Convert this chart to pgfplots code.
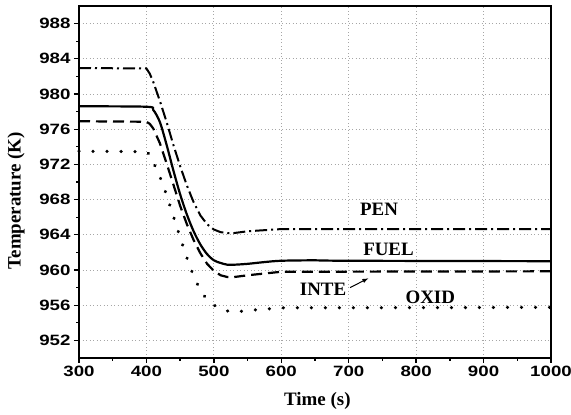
\documentclass[border=0pt]{standalone}
\usepackage{fontspec}
\setmainfont{Liberation Serif}
\setsansfont{Liberation Sans}
\newfontfamily\tickfont[FakeStretch=1.25]{Liberation Sans}
\usepackage{pgfplots}
\pgfplotsset{compat=1.18}

\begin{document}
\begin{tikzpicture}
\begin{axis}[
  name=ax,
  scale only axis,
  width=472bp, height=352bp,
  xmin=300, xmax=1000, ymin=950, ymax=990,
  xtick={300,400,...,1000},
  ytick={952,956,...,988},
  minor x tick num=1,
  minor y tick num=1,
  axis line style={line width=1.6bp},
  tick style={line width=1.3bp, black},
  major tick length=5bp, minor tick length=3bp,
  tick align=outside,
  xtick pos=bottom, ytick pos=left,
  grid=major,
  major grid style={gray!70, line width=0.9bp, dash pattern=on 0.9bp off 2.6bp},
  /pgf/number format/assume math mode=true,
  /pgf/number format/1000 sep={},
  ticklabel style={font=\tickfont\bfseries\fontsize{15}{17}\selectfont},
  xlabel={\bfseries Time (s)},
  ylabel={\bfseries Temperature (K)},
  label style={font=\fontsize{19}{21}\selectfont},
  xlabel style={at={(axis description cs:0.505,-0.1233)}, anchor=center},
  ylabel style={at={(axis description cs:-0.1335,0.447)}, anchor=center},
  clip=false,
]
% PEN
\addplot[black, line width=2bp, dash pattern=on 12bp off 4bp on 2bp off 4bp] coordinates {
(300,982.95) (400,982.9) (405,982.3) (410,981.4) (420,979.2) (430,976.8) (440,974.2)
(450,971.8) (460,969.6) (470,967.7) (480,966.2) (490,965.2) (500,964.6) (510,964.3)
(520,964.2) (530,964.2) (550,964.4) (600,964.65) (1000,964.65)};
% FUEL
\addplot[black, line width=2.2bp, smooth] coordinates {
(300,978.6) (400,978.55) (410,978.2) (420,976.8) (430,974.2) (440,971.3) (450,968.6)
(460,966.3) (470,964.4) (480,962.9) (490,961.8) (500,961.1) (510,960.8) (520,960.6)
(530,960.6) (550,960.7) (575,960.9) (600,961.05) (650,961.1) (700,961.05) (1000,961.0)};
% INTE
\addplot[black, line width=2.2bp, dash pattern=on 11bp off 6bp] coordinates {
(300,976.9) (400,976.85) (405,976.6) (410,976.1) (420,974.4) (430,972.1) (440,969.7)
(450,967.3) (460,965.2) (470,963.4) (480,961.9) (490,960.7) (500,959.9) (510,959.4)
(520,959.2) (530,959.2) (550,959.4) (600,959.8) (1000,959.85)};
% OXID
\addplot[black, line width=3.5bp, line cap=round, dash pattern=on 0.01bp off 14bp] coordinates {
(300,973.5) (400,973.45) (405,973.1) (410,972.3) (420,970.6) (430,968.5) (440,966.1)
(450,963.7) (460,961.4) (470,959.3) (480,957.7) (490,956.6) (500,956.0) (510,955.6)
(520,955.35) (530,955.2) (550,955.4) (600,955.7) (1000,955.75)};

\node[font=\bfseries\fontsize{19}{21}\selectfont] at (axis cs:745,966.9) {PEN};
\node[font=\bfseries\fontsize{19}{21}\selectfont] at (axis cs:759,962.3) {FUEL};
\node[font=\bfseries\fontsize{19}{21}\selectfont] at (axis cs:662,957.8) {INTE};
\node[font=\bfseries\fontsize{19}{21}\selectfont] at (axis cs:821,956.85) {OXID};
\draw[-latex, line width=1bp] (axis cs:702,958) -- (axis cs:729,959.05);
\end{axis}
\pgfresetboundingbox
\path (ax.south west) ++(-79bp,-56.7bp) coordinate (bl);
\path (ax.north east) ++(20bp,6bp) coordinate (tr);
\path (bl) rectangle (tr);
\end{tikzpicture}
\end{document}
